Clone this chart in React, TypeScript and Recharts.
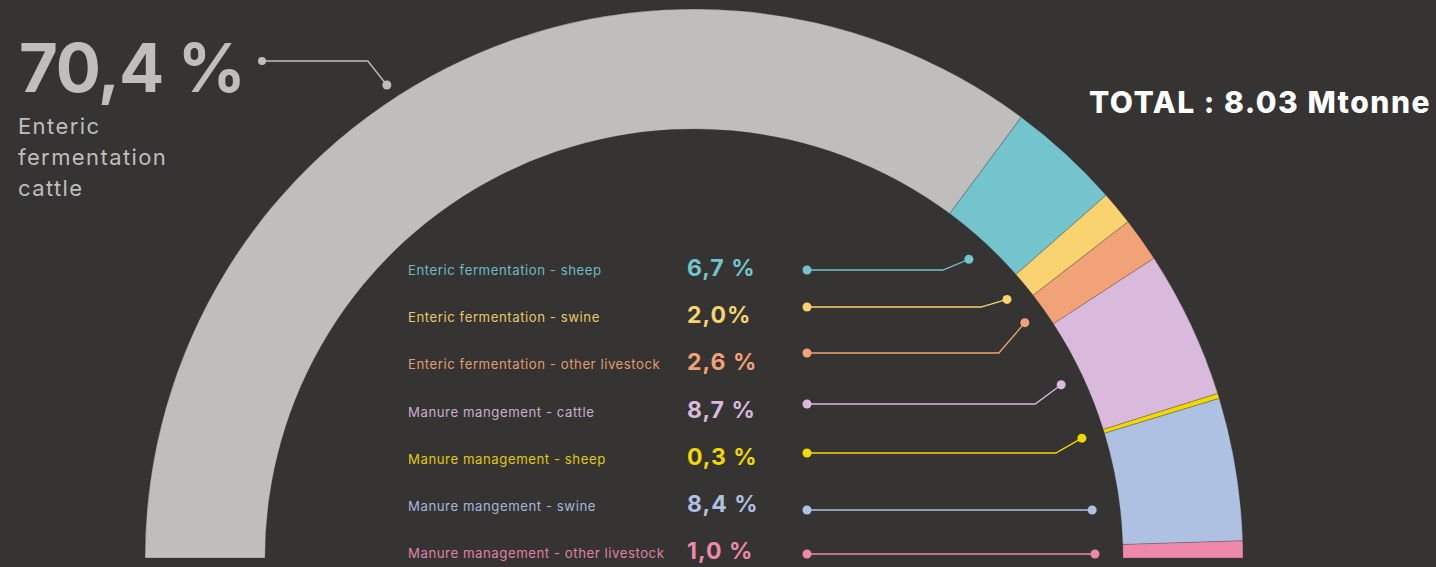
import React from "react";
import { PieChart, Pie, Cell } from "recharts";

const categories = [
  "Enteric fermentation cattle",
  "Enteric fermentation - sheep",
  "Enteric fermentation - swine",
  "Enteric fermentation - other livestock",
  "Manure mangement - cattle",
  "Manure management - sheep",
  "Manure mangement - swine",
  "Manure management - other livestock",
];
const shares = [70.4, 6.7, 2.0, 2.6, 8.7, 0.3, 8.4, 1.0];
const shareLabels = ["70,4 %", "6,7 %", "2,0%", "2,6 %", "8,7 %", "0,3 %", "8,4 %", "1,0 %"];
const colors = ["#bfbebc", "#74c4ce", "#f8d36f", "#f1a277", "#d9b9dc", "#f0d800", "#afc1e3", "#ee89ac"];
const totalLabel = "TOTAL : 8.03 Mtonne";

// layout constants
const W = 1436;
const H = 567;
const CX = 694;
const CY = 558;
const INNER = 429;
const OUTER = 549;
const ROW0 = 270;
const ROW_STEP = 47.2;
const LEADER_Y = [0, 270, 307, 353, 404, 453, 510, 554];
const LEADER_X0 = 807;
const FONT = "Inter, 'Noto Sans', sans-serif";

const data = categories.map((name, i) => ({ name, value: shares[i] }));

const RAD = Math.PI / 180;

const renderLabel = (props: any) => {
  const { index, midAngle, fill } = props;
  const color = colors[index] || fill;
  if (index === 0) {
    const a = 123 * RAD;
    const dx = CX + 564 * Math.cos(a);
    const dy = CY - 564 * Math.sin(a);
    const ex = dx - 19;
    const ey = 61;
    return (
      <g key={`lab-${index}`}>
        <text x={19} y={92} fill={color} fontFamily={FONT} fontWeight={700} fontSize={67} letterSpacing={-1.2}>
          {shareLabels[0]}
        </text>
        {["Enteric", "fermentation", "cattle"].map((t, k) => (
          <text key={k} x={18} y={134 + k * 31} fill={color} fontFamily={FONT} fontSize={22} letterSpacing={1.4}>
            {t}
          </text>
        ))}
        <polyline points={`262,${ey} ${ex},${ey} ${dx},${dy}`} fill="none" stroke={color} strokeWidth={1.3} />
        <circle cx={262} cy={ey} r={4} fill={color} />
        <circle cx={dx} cy={dy} r={4.5} fill={color} />
      </g>
    );
  }
  const rowY = ROW0 + (index - 1) * ROW_STEP;
  const ly = LEADER_Y[index];
  let px: number;
  let py: number;
  let pts: string;
  if (midAngle < 12) {
    const r = 401;
    py = ly;
    px = CX + Math.sqrt(r * r - (CY - ly) * (CY - ly));
    pts = `${LEADER_X0},${ly} ${px},${py}`;
  } else {
    const r = 406;
    const a = midAngle * RAD;
    px = CX + r * Math.cos(a);
    py = CY - r * Math.sin(a);
    const ex = px - 26;
    pts = `${LEADER_X0},${ly} ${ex},${ly} ${px},${py}`;
  }
  return (
    <g key={`lab-${index}`}>
      <text x={408} y={rowY} dominantBaseline="central" fill={color} fontFamily={FONT} fontSize={13.2} letterSpacing={0.55} opacity={0.92}>
        {categories[index]}
      </text>
      <text x={687} y={rowY - 2} dominantBaseline="central" fill={color} fontFamily={FONT} fontWeight={700} fontSize={23} letterSpacing={1}>
        {shareLabels[index]}
      </text>
      <polyline points={pts} fill="none" stroke={color} strokeWidth={1.3} />
      <circle cx={LEADER_X0} cy={ly} r={4.5} fill={color} />
      <circle cx={px} cy={py} r={4.5} fill={color} />
    </g>
  );
};

export default function App() {
  return (
    <div style={{ position: "absolute", left: 0, top: 0, width: W, height: H, background: "#353432", overflow: "hidden" }}>
      <PieChart width={W} height={H} margin={{ top: 0, right: 0, bottom: 0, left: 0 }}>
        <Pie
          data={data}
          dataKey="value"
          nameKey="name"
          cx={CX}
          cy={CY}
          innerRadius={INNER}
          outerRadius={OUTER}
          startAngle={180}
          endAngle={0}
          paddingAngle={0}
          stroke="rgba(60,60,60,0.35)"
          strokeWidth={0.8}
          isAnimationActive={false}
          labelLine={false}
          label={renderLabel}
        >
          {data.map((d, i) => (
            <Cell key={d.name} fill={colors[i]} />
          ))}
        </Pie>
      </PieChart>
      <div
        style={{
          position: "absolute",
          right: 5,
          top: 84,
          color: "#ffffff",
          fontFamily: FONT,
          fontWeight: 800,
          fontSize: 30,
          letterSpacing: 1.5,
          whiteSpace: "nowrap",
        }}
      >
        {totalLabel}
      </div>
    </div>
  );
}
